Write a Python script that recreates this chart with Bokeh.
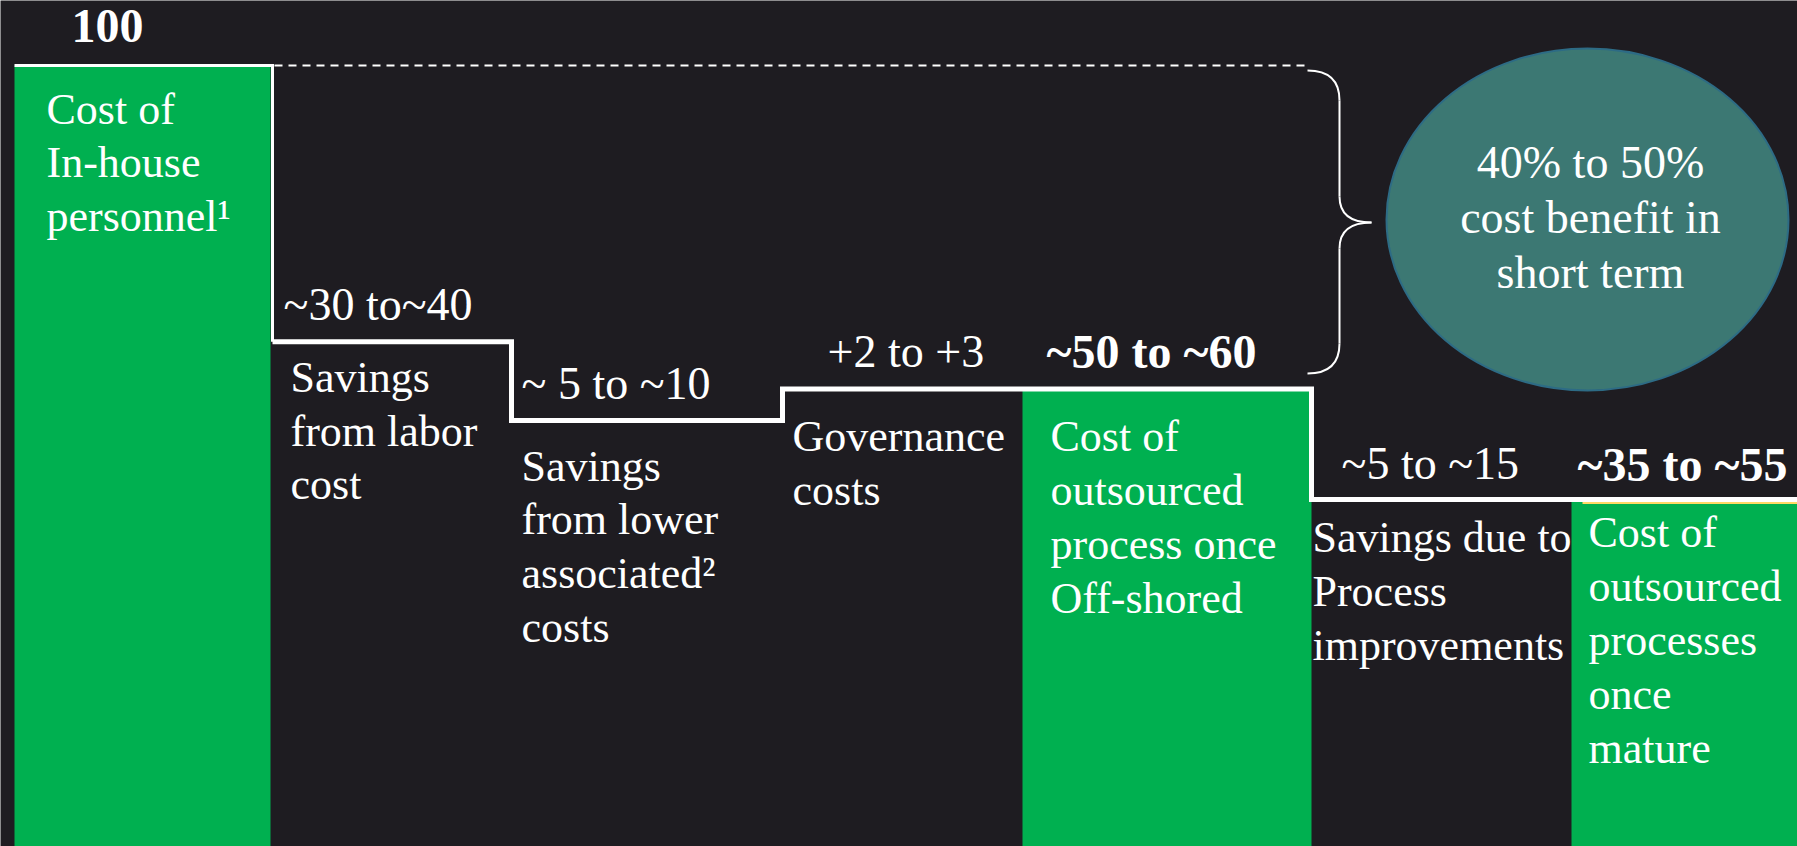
from bokeh.plotting import figure
from bokeh.models import Range1d, ColumnDataSource
from bokeh.embed import file_html
from bokeh.resources import INLINE
from bokeh.core.properties import value

# ---------------- data ----------------
steps = [
    "Cost of\nIn-house\npersonnel\u00b9",
    "Savings\nfrom labor\ncost",
    "Savings\nfrom lower\nassociated\u00b2\ncosts",
    "Governance\ncosts",
    "Cost of\noutsourced\nprocess once\nOff-shored",
    "Savings due to\nProcess\nimprovements",
    "Cost of\noutsourced\nprocesses\nonce\nmature",
]
range_labels = ["100", "~30 to~40", "~ 5 to ~10", "+2 to +3", "~50 to ~60", "~5 to ~15", "~35 to ~55"]
deltas = [100, -35, -10, 4, None, -14, None]          # None = running subtotal
is_total = [True, False, False, False, True, False, True]
bubble_text = "40% to 50%\ncost benefit in\nshort term"

# running levels
levels = []
run = 0
for d in deltas:
    if d is not None:
        run += d
    levels.append(run)

# ---------------- layout (pixel units on x) ----------------
col_edges = [14, 270, 511, 782, 1022, 1311, 1571, 1800]
range_x = [71, 283, 521, 827, 1046, 1341, 1577]
range_dy = [-40, -37, -37, -37, -37, -36, -35]
desc_x = [46, 290, 521, 792, 1050, 1312, 1588]
desc_dy = [19, 11, 21, 23, 23, 14, 9]

BG = "#1E1C21"
GREEN = "#00B050"
FONT = value("Liberation Serif")

W, H = 1797, 846
# value scale: level 100 at px 65, 0 at px 854
k = 7.89
y0 = 854
p = figure(width=W, height=H, output_backend="svg", toolbar_location=None,
           x_range=Range1d(0, W),
           y_range=Range1d((y0 - H) / k, y0 / k),
           min_border=0, x_axis_location=None, y_axis_location=None)
p.extra_y_ranges = {"px": Range1d(H, 0)}
p.grid.visible = False
p.outline_line_color = None
p.background_fill_color = BG
p.border_fill_color = BG

# green total bars
bl, br, bt = [], [], []
for i, t in enumerate(is_total):
    if t:
        bl.append(col_edges[i]); br.append(col_edges[i + 1]); bt.append(levels[i])
p.quad(left=bl, right=br, bottom=[0] * len(bl), top=bt, fill_color=GREEN, line_color=None)

# yellow accent on final bar
p.segment(x0=[1582], y0=[502], x1=[1800], y1=[502], y_range_name="px",
          line_color="#FFD966", line_width=3)

# dashed reference line at the starting level
p.segment(x0=[274], y0=[levels[0]], x1=[1307], y1=[levels[0]],
          line_color="white", line_width=2, line_dash="8 6")

# thin outline of first bar
p.line(x=[col_edges[0], col_edges[1] + 2, col_edges[1] + 2],
       y=[levels[0], levels[0], levels[1]], line_color="white", line_width=3,
       line_join="miter")

# step line
sx, sy = [], []
for i in range(1, len(levels)):
    left = col_edges[i] + (2 if i == 1 else 0)
    sx += [left, col_edges[i + 1]]
    sy += [levels[i], levels[i]]
p.line(x=sx, y=sy, line_color="white", line_width=5, line_join="miter")

# brace
p.quadratic(x0=[1307, 1339, 1371, 1339], y0=[70, 196, 222, 343],
            x1=[1339, 1371, 1339, 1307], y1=[100, 222, 248, 373],
            cx=[1339, 1339, 1339, 1339], cy=[70, 222, 222, 373],
            y_range_name="px", line_color="white", line_width=2)
p.segment(x0=[1339, 1339], y0=[100, 248], x1=[1339, 1339], y1=[196, 343],
          y_range_name="px", line_color="white", line_width=2)

# ellipse
p.ellipse(x=[1587], y=[219], width=[402], height=[342], width_units="screen",
          height_units="screen", y_range_name="px",
          fill_color="#3C7873", line_color="#2D6B85", line_width=2)
p.text(x=[1590], y=[217], text=[bubble_text], y_range_name="px",
       text_font=FONT, text_font_size="46px", text_color="white",
       text_align="center", text_baseline="middle", text_line_height=1.07)

# range labels
src_r = ColumnDataSource(dict(
    x=range_x, y=levels, text=range_labels, dy=range_dy,
    style=["bold" if t else "normal" for t in is_total],
    size=["48px" if t else "46px" for t in is_total],
))
p.text(x="x", y="y", text="text", y_offset="dy", source=src_r,
       text_font=FONT, text_font_size="size", text_font_style="style",
       text_color="white", text_align="left", text_baseline="middle")

# descriptions
src_d = ColumnDataSource(dict(x=desc_x, y=levels, text=steps, dy=desc_dy))
p.text(x="x", y="y", text="text", y_offset="dy", source=src_d,
       text_font=FONT, text_font_size="44px", text_color="white",
       text_align="left", text_baseline="top", text_line_height=1.1)

open("out.html", "w").write(file_html(p, INLINE))
